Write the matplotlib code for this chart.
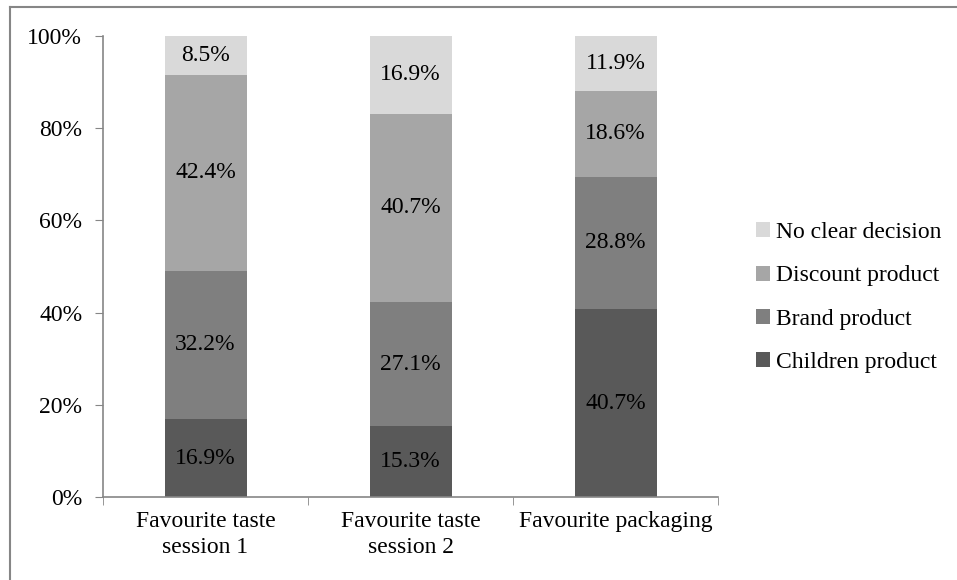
import numpy as np
import matplotlib.pyplot as plt
from matplotlib.lines import Line2D

plt.rcParams['font.family'] = ['Liberation Serif', 'DejaVu Serif']

categories = ["Favourite taste\nsession 1", "Favourite taste\nsession 2", "Favourite packaging"]
series = ["Children product", "Brand product", "Discount product", "No clear decision"]
children = [16.9, 15.3, 40.7]
brand = [32.2, 27.1, 28.8]
discount = [42.4, 40.7, 18.6]
no_decision = [8.5, 16.9, 11.9]
colors = ["#595959", "#7f7f7f", "#a6a6a6", "#d9d9d9"]

FS = 17
W, H = 957, 580
fig = plt.figure(figsize=(W / 100, H / 100), dpi=100)
ax = fig.add_axes([103 / W, 1 - 497 / H, 615 / W, 461 / H])

x = np.arange(len(categories))
bottom = np.zeros(len(categories))
for name, vals, c in zip(series, [children, brand, discount, no_decision], colors):
    vals = np.array(vals)
    ax.bar(x, vals, 0.4, bottom=bottom, color=c, label=name, linewidth=0)
    for xi, v, b0 in zip(x, vals, bottom):
        ax.text(xi, b0 + v / 2, f"{v:.1f}%", ha="center", va="center", fontsize=FS)
    bottom += vals

ax.set_xlim(-0.5, 2.5)
ax.set_ylim(0, 100)
ax.set_yticks(np.arange(0, 101, 20))
ax.set_yticklabels([f"{t}%" for t in range(0, 101, 20)], fontsize=FS)
ax.set_xticks(x)
ax.set_xticklabels(categories, fontsize=FS, linespacing=1.3)
ax.tick_params(axis="x", length=0, pad=10)
ax.tick_params(axis="y", length=6, color="#868686", pad=9)

# category separators below the x axis
ax.set_xticks([-0.5, 0.5, 1.5, 2.5], minor=True)
ax.tick_params(axis="x", which="minor", length=6, color="#868686")

for s in ["top", "right"]:
    ax.spines[s].set_visible(False)
for s in ["left", "bottom"]:
    ax.spines[s].set_color("#868686")
    ax.spines[s].set_linewidth(1.2)

handles, labels = ax.get_legend_handles_labels()
fig.legend(handles[::-1], labels[::-1], loc="upper left",
           bbox_to_anchor=(756 / W, 1 - 222 / H), frameon=False,
           fontsize=FS, handlelength=0.6, handleheight=0.6,
           handletextpad=0.25, labelspacing=0.95, borderaxespad=0,
           borderpad=0)

# outer frame around the chart area
fig.add_artist(Line2D([9.5 / W, 9.5 / W], [0, 1 - 6.5 / H], transform=fig.transFigure,
                      color="#868686", lw=1.5))
fig.add_artist(Line2D([9.5 / W, 1], [1 - 6.5 / H, 1 - 6.5 / H], transform=fig.transFigure,
                      color="#868686", lw=1.5))

fig.savefig("out.png", dpi=100)
